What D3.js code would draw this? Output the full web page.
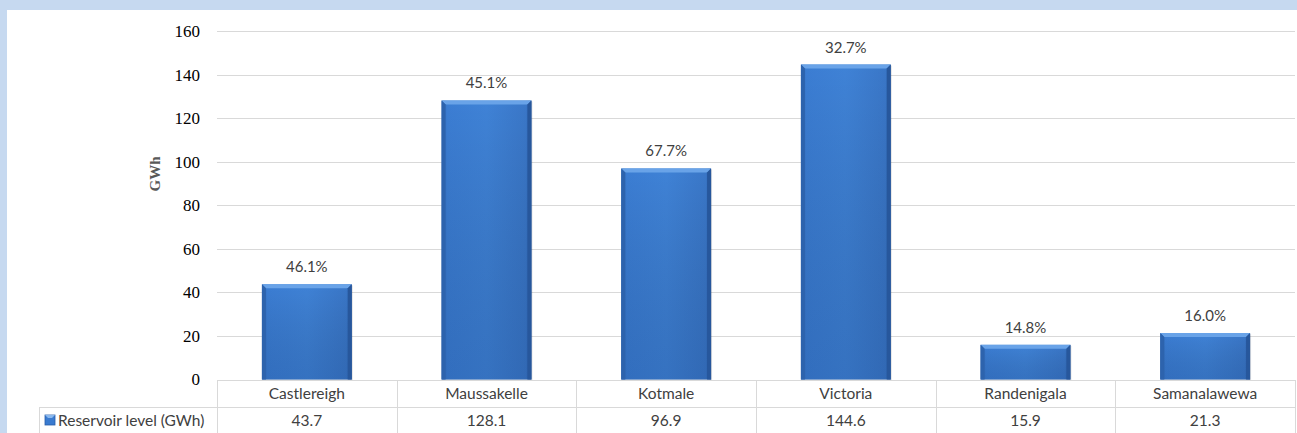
<!DOCTYPE html>
<html><head><meta charset="utf-8">
<script src="https://cdn.jsdelivr.net/npm/d3@7"></script>
<style>body{margin:0;background:#c6d9f0;}svg{display:block;}</style>
</head><body>
<svg id="chart" width="1297" height="433"></svg>
<script>
const categories = ["Castlereigh","Maussakelle","Kotmale","Victoria","Randenigala","Samanalawewa"];
const reservoirGWh = [43.7,128.1,96.9,144.6,15.9,21.3];
const percentLabels = ["46.1%","45.1%","67.7%","32.7%","14.8%","16.0%"];
const yTicks = [0,20,40,60,80,100,120,140,160];
const seriesName = "Reservoir level (GWh)";

const svg = d3.select("#chart");
const W = 1297, H = 433;
const sansFont = "Lato, Open Sans, sans-serif";
svg.append("rect").attr("x",0).attr("y",0).attr("width",W).attr("height",H).attr("fill","#c6d9f0");
svg.append("rect").attr("x",7).attr("y",10).attr("width",W-7).attr("height",H-10).attr("fill","#ffffff");

const pLeft = 217, pRight = 1295, pTop = 31, pBottom = 379.5;
const x = d3.scaleBand().domain(categories).range([pLeft,pRight]).paddingInner(0.5).paddingOuter(0.25);
const xb = d3.scaleBand().domain(categories).range([pLeft,pRight]);
const y = d3.scaleLinear().domain([0,160]).range([pBottom,pTop]);

const defs = svg.append("defs");
const g1 = defs.append("linearGradient").attr("id","barGrad").attr("x1","0").attr("x2","1").attr("y1","0").attr("y2","0");
g1.append("stop").attr("offset","0").attr("stop-color","#2f67b5");
g1.append("stop").attr("offset","0.06").attr("stop-color","#3b7dd3");
g1.append("stop").attr("offset","0.5").attr("stop-color","#3f82d6");
g1.append("stop").attr("offset","0.94").attr("stop-color","#3a77c8");
g1.append("stop").attr("offset","1").attr("stop-color","#2a5ea8");
const g2 = defs.append("linearGradient").attr("id","barV").attr("x1","0").attr("x2","0").attr("y1","0").attr("y2","1");
g2.append("stop").attr("offset","0").attr("stop-color","#000").attr("stop-opacity","0");
g2.append("stop").attr("offset","1").attr("stop-color","#0a2a60").attr("stop-opacity","0.18");

svg.append("g").selectAll("line").data(yTicks.filter(d=>d>0)).join("line")
  .attr("x1",pLeft).attr("x2",pRight).attr("y1",d=>Math.round(y(d))+0.5).attr("y2",d=>Math.round(y(d))+0.5)
  .attr("stroke","#d9d9d9").attr("stroke-width",1.2);

const yAxis = d3.axisLeft(y).tickValues(yTicks).tickSize(0).tickPadding(0);
const ya = svg.append("g").attr("transform",`translate(${pLeft-17},0)`).call(yAxis);
ya.select(".domain").remove();
ya.selectAll("text").attr("font-family","Liberation Serif, serif").attr("font-size","17px").attr("fill","#000").attr("dy","0.32em");

svg.append("text").attr("transform",`translate(160,174) rotate(-90)`).attr("text-anchor","middle")
  .attr("font-family","Liberation Serif, serif").attr("font-weight","bold").attr("font-size","15px").attr("fill","#595959").text("GWh");

const bars = svg.append("g");
categories.forEach((c,i)=>{
  const v = reservoirGWh[i];
  const bx = x(c), bw = x.bandwidth(), by = y(v), bh = pBottom - y(v);
  const b = 4;
  bars.append("rect").attr("x",bx+1).attr("y",by+1).attr("width",bw).attr("height",bh).attr("fill","#000").attr("opacity",0.12);
  bars.append("rect").attr("x",bx).attr("y",by).attr("width",bw).attr("height",bh).attr("fill","url(#barGrad)");
  bars.append("rect").attr("x",bx).attr("y",by).attr("width",bw).attr("height",bh).attr("fill","url(#barV)");
  bars.append("polygon").attr("points",`${bx},${by} ${bx+bw},${by} ${bx+bw-b},${by+b} ${bx+b},${by+b}`).attr("fill","#69a3e8");
  bars.append("polygon").attr("points",`${bx},${by} ${bx+b},${by+b} ${bx+b},${pBottom} ${bx},${pBottom}`).attr("fill","#2d63ad");
  bars.append("polygon").attr("points",`${bx+bw},${by} ${bx+bw-b},${by+b} ${bx+bw-b},${pBottom} ${bx+bw},${pBottom}`).attr("fill","#27579c");
  svg.append("text").attr("x",bx+bw/2).attr("y",by-12).attr("text-anchor","middle")
    .attr("font-family",sansFont).attr("font-size","15px").attr("fill","#404040").text(percentLabels[i]);
});

const tTop = 380, tMid = 407, tBot = 433, tLeft = 39;
const tg = svg.append("g").attr("stroke","#d9d9d9").attr("stroke-width",1);
tg.append("line").attr("x1",pLeft).attr("x2",pRight).attr("y1",tTop+0.5).attr("y2",tTop+0.5);
tg.append("line").attr("x1",tLeft).attr("x2",pRight).attr("y1",tMid+0.5).attr("y2",tMid+0.5);
tg.append("line").attr("x1",tLeft+0.5).attr("x2",tLeft+0.5).attr("y1",tMid).attr("y2",tBot);
const edges = categories.map(c=>xb(c)).concat([pRight]);
tg.selectAll(".v").data(edges).join("line").attr("class","v")
  .attr("x1",d=>Math.round(d)+0.5).attr("x2",d=>Math.round(d)+0.5).attr("y1",tTop).attr("y2",tBot);

categories.forEach((c,i)=>{
  const cx = xb(c)+xb.bandwidth()/2;
  svg.append("text").attr("x",cx).attr("y",tTop+19).attr("text-anchor","middle")
    .attr("font-family",sansFont).attr("font-size","15.5px").attr("fill","#404040").text(c);
  svg.append("text").attr("x",cx).attr("y",tMid+19).attr("text-anchor","middle")
    .attr("font-family",sansFont).attr("font-size","15.5px").attr("fill","#404040").text(reservoirGWh[i].toFixed(1));
});
svg.append("rect").attr("x",45).attr("y",415).attr("width",10).attr("height",10).attr("fill","#3a7bd0").attr("stroke","#2a5ea8").attr("stroke-width",0.8);
svg.append("polygon").attr("points","45,415 55,415 52,418 48,418").attr("fill","#8ab8ee");
svg.append("text").attr("x",58).attr("y",tMid+19).attr("font-family",sansFont).attr("font-size","15.5px").attr("fill","#404040").text(seriesName);
</script>
</body></html>
